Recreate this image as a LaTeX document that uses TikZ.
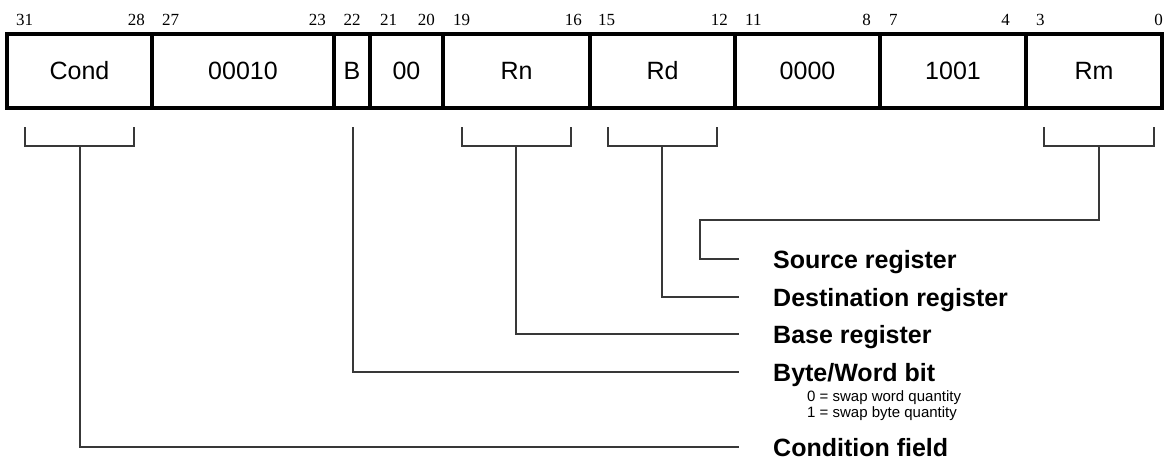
\documentclass[tikz,border=0pt]{standalone}
\usepackage{fontspec}
\setmainfont{Liberation Serif}
\newfontfamily\arial{Liberation Sans}
\begin{document}
\begin{tikzpicture}[x=1pt,y=-1pt,
 cell/.style={draw,line width=4pt,minimum height=73pt,inner sep=0pt,font=\arial\fontsize{25}{30}\selectfont},
 bitnum/.style={inner sep=0pt,font=\fontsize{17}{20}\selectfont},
 conn/.style={draw=black!78,line width=1.3pt},
 lbl/.style={anchor=base west,inner sep=0pt,font=\arial\bfseries\fontsize{25}{30}\selectfont},
 note/.style={anchor=base west,inner sep=0pt,font=\arial\fontsize{15}{16}\selectfont}]
\useasboundingbox (0,0) rectangle (1165,460);
% cells
\node[cell,minimum width=145pt] (cond) at (79.5,71) {Cond};
\node[cell,minimum width=182pt] (opa) at (243,71) {00010};
\node[cell,minimum width=36pt] (bbit) at (352,71) {B};
\node[cell,minimum width=73pt] (zz) at (406.5,71) {00};
\node[cell,minimum width=147pt] (rn) at (516.5,71) {Rn};
\node[cell,minimum width=145pt] (rd) at (662.5,71) {Rd};
\node[cell,minimum width=145pt] (opb) at (807.5,71) {0000};
\node[cell,minimum width=146pt] (opc) at (953,71) {1001};
\node[cell,minimum width=136pt] (rm) at (1094,71) {Rm};
% bit numbers
\node[bitnum,anchor=base west] (n31) at (16,26) {31};
\node[bitnum,anchor=base east] (n28) at (145,26) {28};
\node[bitnum,anchor=base west] (n27) at (162,26) {27};
\node[bitnum,anchor=base east] (n23) at (326,26) {23};
\node[bitnum,anchor=base] (n22) at (352,26) {22};
\node[bitnum,anchor=base west] (n21) at (380,26) {21};
\node[bitnum,anchor=base east] (n20) at (435,26) {20};
\node[bitnum,anchor=base west] (n19) at (453,26) {19};
\node[bitnum,anchor=base east] (n16) at (582,26) {16};
\node[bitnum,anchor=base west] (n15) at (598,26) {15};
\node[bitnum,anchor=base east] (n12) at (728,26) {12};
\node[bitnum,anchor=base west] (n11) at (745,26) {11};
\node[bitnum,anchor=base east] (n8) at (871,26) {8};
\node[bitnum,anchor=base west] (n7) at (889,26) {7};
\node[bitnum,anchor=base east] (n4) at (1010,26) {4};
\node[bitnum,anchor=base west] (n3) at (1036,26) {3};
\node[bitnum,anchor=base east] (n0) at (1163,26) {0};
% brackets
\draw[conn] (25,127) -- (25,146) -- (134,146) -- (134,127);
\draw[conn] (462,127) -- (462,146) -- (571,146) -- (571,127);
\draw[conn] (608,127) -- (608,146) -- (717,146) -- (717,127);
\draw[conn] (1044,127) -- (1044,146) -- (1154,146) -- (1154,127);
\coordinate (condstem) at (80,146);
\coordinate (bstem) at (353,127);
\coordinate (rnstem) at (516,146);
\coordinate (rdstem) at (662,146);
\coordinate (rmstem) at (1099,146);
% line ends
\coordinate (srcend) at (739,259);
\coordinate (dstend) at (739,297);
\coordinate (baseend) at (739,334);
\coordinate (byteend) at (739,372);
\coordinate (condend) at (739,447);
% labels
\node[lbl] (srclbl) at (773,268) {Source register};
\node[lbl] (dstlbl) at (773,306) {Destination register};
\node[lbl] (baselbl) at (773,343) {Base register};
\node[lbl] (bytelbl) at (773,381) {Byte/Word bit};
\node[note] (note0) at (807,401) {0 = swap word quantity};
\node[note] (note1) at (807,417) {1 = swap byte quantity};
\node[lbl] (condlbl) at (773,456) {Condition field};
% connectors
\draw[conn] (rmstem) |- (700,220) |- (srcend);
\draw[conn] (rdstem) |- (dstend);
\draw[conn] (rnstem) |- (baseend);
\draw[conn] (bstem) |- (byteend);
\draw[conn] (condstem) |- (condend);
\end{tikzpicture}
\end{document}
